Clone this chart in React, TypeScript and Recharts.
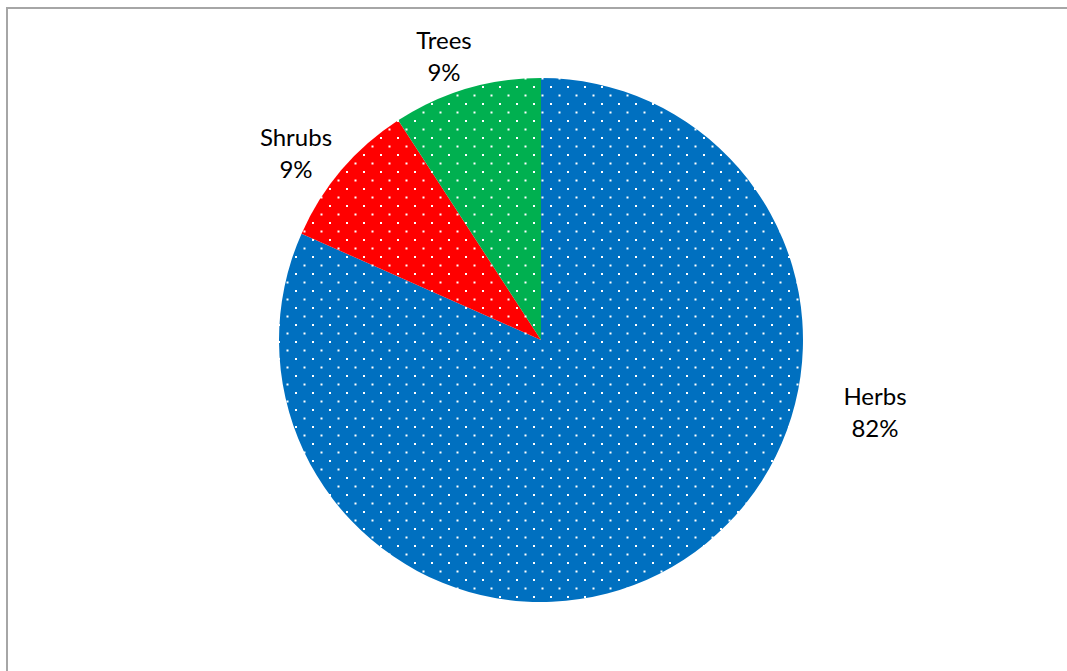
import React from "react";
import { PieChart, Pie, Cell } from "recharts";

const categories = ["Herbs", "Shrubs", "Trees"];
const counts = [89, 10, 10];
const colors = ["#0070C0", "#FF0000", "#00B050"];

// label placement relative to pie centre (px) – layout only
const labelOffsets: Record<string, [number, number]> = {
  Herbs: [334, 65],
  Shrubs: [-245, -194],
  Trees: [-97, -291],
};

const data = categories.map((name, i) => ({ name, value: counts[i] }));
const total = counts.reduce((a, b) => a + b, 0);

const FONT = "Lato, 'Open Sans', sans-serif";

const renderLabel = (props: any) => {
  const { cx, cy, name, value } = props;
  const off = labelOffsets[name] || [0, 0];
  const x = cx + off[0];
  const y = cy + off[1];
  const pct = Math.round((value / total) * 100) + "%";
  return (
    <text x={x} y={y} textAnchor="middle" fill="#000" fontFamily={FONT} fontSize={24}>
      <tspan x={x} y={y}>{name}</tspan>
      <tspan x={x} y={y + 32}>{pct}</tspan>
    </text>
  );
};

export default function App() {
  return (
    <div style={{ position: "absolute", left: 0, top: 0, width: 1067, height: 671, background: "#fff" }}>
      <div
        style={{
          position: "absolute",
          left: 6,
          top: 7,
          width: 1061,
          height: 664,
          boxSizing: "border-box",
          borderLeft: "2px solid #a6a6a6",
          borderTop: "2px solid #a6a6a6",
        }}
      />
      <div style={{ position: "absolute", left: 0, top: 0 }}>
        <PieChart width={1067} height={671} margin={{ top: 0, right: 0, bottom: 0, left: 0 }}>
          <defs>
            {colors.map((c, i) => (
              <pattern key={i} id={"dots" + i} patternUnits="userSpaceOnUse" width={17} height={17} x={0} y={0}>
                <rect x={0} y={0} width={17} height={17} fill={c} />
                <rect x={6} y={1} width={2} height={2} fill="#fff" />
                <rect x={14.5} y={9.5} width={2} height={2} fill="#fff" />
              </pattern>
            ))}
          </defs>
          <Pie
            data={data}
            dataKey="value"
            nameKey="name"
            cx={541}
            cy={340}
            innerRadius={0}
            outerRadius={262}
            startAngle={90}
            endAngle={-270}
            stroke="none"
            label={renderLabel}
            labelLine={false}
            isAnimationActive={false}
          >
            {data.map((d, i) => (
              <Cell key={d.name} fill={`url(#dots${i})`} />
            ))}
          </Pie>
        </PieChart>
      </div>
    </div>
  );
}
